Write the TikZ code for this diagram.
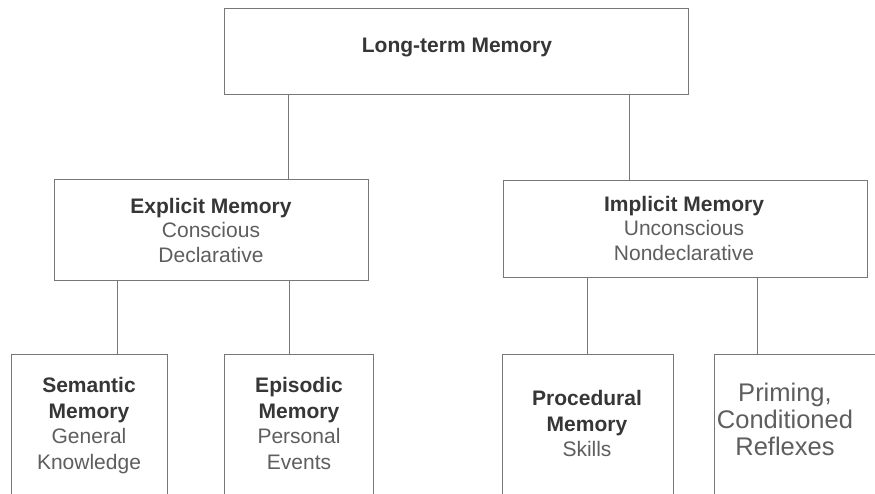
\documentclass[tikz,border=0pt]{standalone}
\usepackage{fontspec}
\setmainfont{Liberation Sans}
\definecolor{linecol}{HTML}{777777}
\definecolor{headcol}{HTML}{363636}
\definecolor{bodycol}{HTML}{5E5E5E}
\newcommand{\hd}[1]{{\color{headcol}\bfseries #1}}
\begin{document}
\begin{tikzpicture}[x=1pt,y=-1pt,
  box/.style={draw=linecol, line width=0.8pt, inner sep=0pt, rectangle},
  txt/.style={inner sep=0pt, align=center, text=bodycol, anchor=north,
    font=\fontsize{21}{24.5}\selectfont},
  txtb/.style={txt, font=\fontsize{21}{25.7}\selectfont},
  txtp/.style={txt, font=\fontsize{25.5}{27}\selectfont}]
\useasboundingbox (0,0) rectangle (875,493);
\fill[white] (0,0) rectangle (875,493);
\clip (0,0) rectangle (875,493);

% boxes
\node[box, minimum width=464pt, minimum height=86pt] (ltm) at (456,51) {};
\node[box, minimum width=314pt, minimum height=101pt] (expl) at (211,229.5) {};
\node[box, minimum width=364pt, minimum height=97pt] (impl) at (685,228.5) {};
\node[box, minimum width=156pt, minimum height=156pt] (sem) at (89,432) {};
\node[box, minimum width=149pt, minimum height=156pt] (epi) at (298.5,432) {};
\node[box, minimum width=171pt, minimum height=156pt] (proc) at (587.5,432) {};
\node[box, minimum width=186pt, minimum height=156pt] (prim) at (807,432) {};

% texts
\node[txt] (ltm-t) at (457,37.9) {\hd{Long-term Memory}};
\node[txt] (expl-t) at (211,197.9) {\hd{Explicit Memory}\\Conscious\\Declarative};
\node[txt] (impl-t) at (684,195.9) {\hd{Implicit Memory}\\Unconscious\\Nondeclarative};
\node[txtb] (sem-t) at (89,376.9) {\hd{Semantic}\\\hd{Memory}\\General\\Knowledge};
\node[txtb] (epi-t) at (299,376.9) {\hd{Episodic}\\\hd{Memory}\\Personal\\Events};
\node[txtb] (proc-t) at (587,389.9) {\hd{Procedural}\\\hd{Memory}\\Skills};
\node[txtp] (prim-t) at (785,382.6) {Priming,\\Conditioned\\Reflexes};

% connector x positions
\coordinate (c1) at (288,0);
\coordinate (c2) at (629,0);
\coordinate (c3) at (117,0);
\coordinate (c4) at (289,0);
\coordinate (c5) at (587,0);
\coordinate (c6) at (757,0);

\begin{scope}[draw=linecol, line width=0.8pt]
\draw (ltm.south -| c1) -- (expl.north -| c1);
\draw (ltm.south -| c2) -- (impl.north -| c2);
\draw (expl.south -| c3) -- (sem.north -| c3);
\draw (expl.south -| c4) -- (epi.north -| c4);
\draw (impl.south -| c5) -- (proc.north -| c5);
\draw (impl.south -| c6) -- (prim.north -| c6);
\end{scope}
\end{tikzpicture}
\end{document}
